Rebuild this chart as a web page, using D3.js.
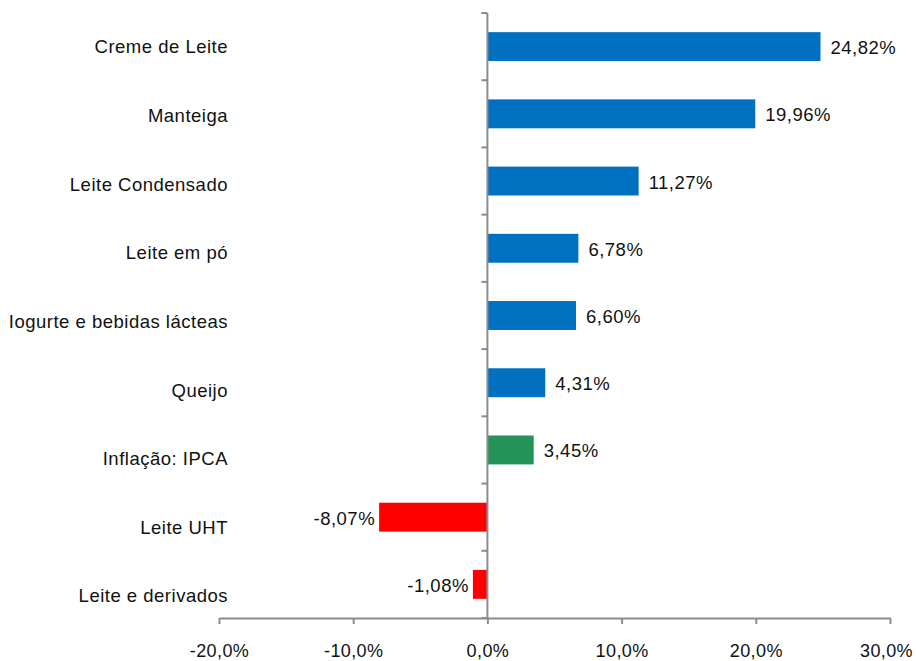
<!DOCTYPE html>
<html lang="pt">
<head>
    <meta charset="UTF-8">
    <title>Variação de preços - Leite e derivados</title>
    <script src="https://cdnjs.cloudflare.com/ajax/libs/d3/7.8.5/d3.min.js"></script>
    <style>
        body { margin: 0; background: #fff; font-family: "Liberation Sans", Arial, sans-serif; }
        .cat-label, .val-label { font-size: 18.5px; letter-spacing: 0.5px; fill: #111; }
        .tick-label { font-size: 18px; letter-spacing: 0.4px; fill: #111; }
        .axis-line { stroke: #8c8c8c; stroke-width: 2; fill: none; }
    </style>
</head>
<body>
    <div id="chart"></div>
    <script>
        // Data
        const categories = ["Creme de Leite", "Manteiga", "Leite Condensado", "Leite em pó",
            "Iogurte e bebidas lácteas", "Queijo", "Inflação: IPCA", "Leite UHT", "Leite e derivados"];
        const values = [24.82, 19.96, 11.27, 6.78, 6.60, 4.31, 3.45, -8.07, -1.08];
        const barColors = ["#0070C0", "#0070C0", "#0070C0", "#0070C0", "#0070C0", "#0070C0",
            "#239358", "#FF0000", "#FF0000"];
        const xTicks = [-20, -10, 0, 10, 20, 30];

        const W = 916, H = 661;
        const plot = {left: 219, right: 890, top: 13, bottom: 618};

        const svg = d3.select("#chart").append("svg")
            .attr("width", W)
            .attr("height", H);

        const x = d3.scaleLinear()
            .domain([-20, 30])
            .range([plot.left, plot.right]);

        const y = d3.scaleBand()
            .domain(categories)
            .range([plot.top, plot.bottom])
            .paddingInner(0.57)
            .paddingOuter(0.285);

        // category labels sit on a slightly wider spacing than the bars (as in the original)
        const yLabel = d3.scalePoint()
            .domain(categories)
            .range([47, 596]);

        const fmt = v => v.toFixed(2).replace(".", ",") + "%";

        // Bars
        svg.selectAll(".bar")
            .data(categories)
            .enter().append("rect")
            .attr("class", "bar")
            .attr("x", (d, i) => x(Math.min(0, values[i])))
            .attr("y", d => y(d))
            .attr("width", (d, i) => Math.abs(x(values[i]) - x(0)))
            .attr("height", y.bandwidth())
            .attr("fill", (d, i) => barColors[i]);

        // Value labels
        svg.selectAll(".val-label")
            .data(categories)
            .enter().append("text")
            .attr("class", "val-label")
            .attr("x", (d, i) => values[i] >= 0 ? x(values[i]) + 10 : x(values[i]) - 4)
            .attr("y", d => y(d) + y.bandwidth() / 2 + 1)
            .attr("dy", "0.35em")
            .attr("text-anchor", (d, i) => values[i] >= 0 ? "start" : "end")
            .text((d, i) => fmt(values[i]));

        // Category labels, right aligned at the left of the plot
        svg.selectAll(".cat-label")
            .data(categories)
            .enter().append("text")
            .attr("class", "cat-label")
            .attr("x", 228)
            .attr("y", d => yLabel(d))
            .attr("dy", "0.35em")
            .attr("text-anchor", "end")
            .text(d => d);

        // Vertical axis at zero with ticks between categories
        const bandStep = (plot.bottom - plot.top) / categories.length;
        const yTickPos = d3.range(categories.length + 1).map(i => plot.top + i * bandStep);

        svg.append("line")
            .attr("class", "axis-line")
            .attr("x1", x(0)).attr("x2", x(0))
            .attr("y1", plot.top).attr("y2", plot.bottom);

        svg.selectAll(".ytick")
            .data(yTickPos)
            .enter().append("line")
            .attr("class", "axis-line ytick")
            .attr("x1", x(0) - 6).attr("x2", x(0))
            .attr("y1", d => d).attr("y2", d => d);

        // Horizontal axis
        const xAxis = svg.append("g")
            .attr("transform", `translate(0,${plot.bottom})`)
            .call(d3.axisBottom(x)
                .tickValues(xTicks)
                .tickSize(6)
                .tickSizeOuter(0)
                .tickFormat(d => d.toFixed(1).replace(".", ",") + "%"));

        xAxis.select(".domain").attr("stroke", "#8c8c8c").attr("stroke-width", 2);
        xAxis.selectAll(".tick line").attr("stroke", "#8c8c8c").attr("stroke-width", 2);
        xAxis.selectAll(".tick text")
            .attr("class", "tick-label")
            .attr("y", 26)
            .attr("dy", "0.71em")
            .attr("dx", d => d === 30 ? -4 : 0)
            .style("font-family", "'Liberation Sans', Arial, sans-serif")
            .attr("fill", "#111");
    </script>
</body>
</html>
